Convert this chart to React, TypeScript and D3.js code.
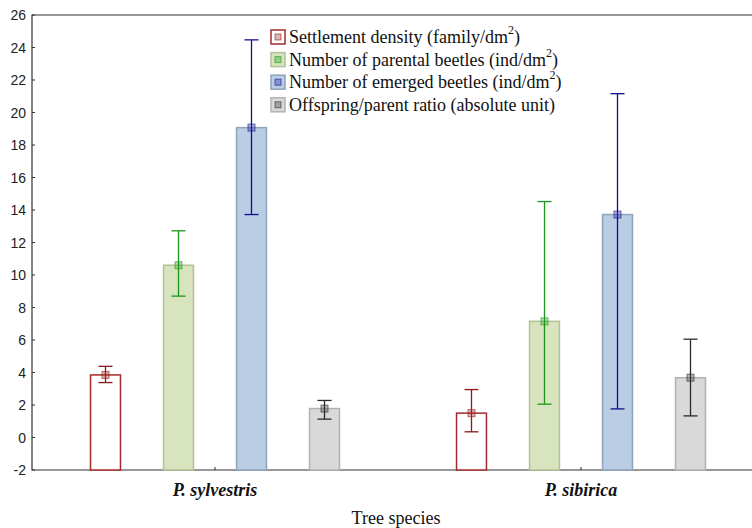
import { useEffect, useRef } from "react";
import * as d3 from "d3";

// data
const species = ["P. sylvestris", "P. sibirica"];
const seriesNames = [
  "Settlement density (family/dm",
  "Number of parental beetles (ind/dm",
  "Number of emerged beetles (ind/dm",
  "Offspring/parent ratio (absolute unit)",
];
const seriesSup = ["2", "2", "2", ""];
const settlementDensity = [3.85, 1.5];
const parentalBeetles = [10.6, 7.15];
const emergedBeetles = [19.07, 13.72];
const offspringRatio = [1.78, 3.68];
const settlementErr = [
  [3.38, 4.38],
  [0.35, 2.95],
];
const parentalErr = [
  [8.7, 12.72],
  [2.05, 14.52],
];
const emergedErr = [
  [13.72, 24.47],
  [1.76, 21.16],
];
const offspringErr = [
  [1.13, 2.28],
  [1.33, 6.05],
];
const yTicks = [-2, 0, 2, 4, 6, 8, 10, 12, 14, 16, 18, 20, 22, 24, 26];

const serif = "'Liberation Serif', 'Times New Roman', Times, serif";

const styles = [
  { fill: "#ffffff", stroke: "#a52a2a", err: "#8b1a1a", mark: "rgba(165,42,42,0.35)" },
  { fill: "#d7e4bd", stroke: "#b3c296", err: "#1a961a", mark: "rgba(40,160,40,0.35)" },
  { fill: "#b9cde5", stroke: "#8fa3bd", err: "#10108c", mark: "rgba(40,40,170,0.35)" },
  { fill: "#d9d9d9", stroke: "#b2b2b2", err: "#2a2a2a", mark: "rgba(60,60,60,0.35)" },
];

const App = () => {
  const svgRef = useRef(null);

  useEffect(() => {
    const width = 752;
    const height = 528;
    const margin = { top: 15, right: -12, bottom: 58, left: 32 };

    const svg = d3.select(svgRef.current);
    svg.selectAll("*").remove();
    svg.attr("width", width).attr("height", height);

    const values = [settlementDensity, parentalBeetles, emergedBeetles, offspringRatio];
    const errs = [settlementErr, parentalErr, emergedErr, offspringErr];

    const x = d3
      .scaleBand()
      .domain(species)
      .range([margin.left, width - margin.right]);

    const xInner = d3
      .scaleBand()
      .domain(d3.range(seriesNames.length).map(String))
      .range([-146, 146])
      .paddingInner(0.59)
      .paddingOuter(0.295);

    const y = d3
      .scaleLinear()
      .domain([-2, 26])
      .range([height - margin.bottom, margin.top]);

    // frame: left, top, bottom
    svg
      .append("path")
      .attr("d", `M${width},${y(26)}H${margin.left}V${y(-2)}H${width}`)
      .attr("fill", "none")
      .attr("stroke", "#333")
      .attr("stroke-width", 1.2);

    // y ticks and labels
    svg
      .selectAll(".ytick")
      .data(yTicks)
      .enter()
      .append("line")
      .attr("x1", margin.left)
      .attr("x2", margin.left + 3)
      .attr("y1", (d) => y(d))
      .attr("y2", (d) => y(d))
      .attr("stroke", "#333");

    svg
      .selectAll(".ylabel")
      .data(yTicks)
      .enter()
      .append("text")
      .attr("x", 26)
      .attr("y", (d) => y(d))
      .attr("text-anchor", "end")
      .attr("dominant-baseline", "central")
      .attr("fill", "#222")
      .style("font-family", "'Liberation Sans', Arial, sans-serif")
      .style("font-size", "14px")
      .text((d) => d);

    // category ticks and labels
    species.forEach((sp) => {
      const cx = x(sp) + x.bandwidth() / 2;
      svg
        .append("line")
        .attr("x1", cx)
        .attr("x2", cx)
        .attr("y1", y(-2))
        .attr("y2", y(-2) - 3)
        .attr("stroke", "#333");
      svg
        .append("text")
        .attr("x", cx)
        .attr("y", y(-2) + 26)
        .attr("text-anchor", "middle")
        .style("font-family", serif)
        .style("font-size", "18px")
        .style("font-weight", "bold")
        .style("font-style", "italic")
        .attr("fill", "#111")
        .text(sp);
    });

    // bars + error bars
    species.forEach((sp, i) => {
      const cx = x(sp) + x.bandwidth() / 2;
      values.forEach((vals, s) => {
        const st = styles[s];
        const bx = cx + xInner(String(s));
        const bw = xInner.bandwidth();
        const mx = bx + bw / 2;
        svg
          .append("rect")
          .attr("x", bx)
          .attr("y", y(vals[i]))
          .attr("width", bw)
          .attr("height", y(-2) - y(vals[i]))
          .attr("fill", st.fill)
          .attr("stroke", st.stroke)
          .attr("stroke-width", 1.5);

        const [lo, hi] = errs[s][i];
        svg
          .append("line")
          .attr("x1", mx)
          .attr("x2", mx)
          .attr("y1", y(lo))
          .attr("y2", y(hi))
          .attr("stroke", st.err)
          .attr("stroke-width", 1.3);
        [lo, hi].forEach((v) => {
          svg
            .append("line")
            .attr("x1", mx - 7)
            .attr("x2", mx + 7)
            .attr("y1", y(v))
            .attr("y2", y(v))
            .attr("stroke", st.err)
            .attr("stroke-width", 1.3);
        });
        svg
          .append("rect")
          .attr("x", mx - 3.5)
          .attr("y", y(vals[i]) - 3.5)
          .attr("width", 7)
          .attr("height", 7)
          .attr("fill", st.mark)
          .attr("stroke", st.err)
          .attr("stroke-opacity", 0.6)
          .attr("stroke-width", 1);
      });
    });

    // legend
    const legend = svg.append("g").attr("transform", "translate(271,37)");
    seriesNames.forEach((name, s) => {
      const st = styles[s];
      const g = legend.append("g").attr("transform", `translate(0,${s * 22.6})`);
      g.append("rect")
        .attr("x", 0)
        .attr("y", -7)
        .attr("width", 14)
        .attr("height", 14)
        .attr("fill", st.fill)
        .attr("stroke", st.stroke)
        .attr("stroke-width", 1.5);
      g.append("rect")
        .attr("x", 4)
        .attr("y", -3)
        .attr("width", 6)
        .attr("height", 6)
        .attr("fill", st.mark)
        .attr("stroke", st.err)
        .attr("stroke-opacity", 0.6);
      const t = g
        .append("text")
        .attr("x", 18)
        .attr("y", 0)
        .attr("dominant-baseline", "central")
        .style("font-family", serif)
        .style("font-size", "18px")
        .attr("fill", "#111")
        .text(name);
      if (seriesSup[s]) {
        t.append("tspan")
          .attr("dy", -7)
          .style("font-size", "12px")
          .text(seriesSup[s]);
        t.append("tspan").attr("dy", 7).text(")");
      }
    });

    // axis title
    svg
      .append("text")
      .attr("x", 396)
      .attr("y", 518)
      .attr("text-anchor", "middle")
      .attr("dominant-baseline", "central")
      .style("font-family", serif)
      .style("font-size", "18px")
      .attr("fill", "#111")
      .text("Tree species");
  }, []);

  return (
    <div style={{ position: "absolute", left: 0, top: 0 }}>
      <svg ref={svgRef} style={{ display: "block", background: "#fff" }}></svg>
    </div>
  );
};

export default App;
